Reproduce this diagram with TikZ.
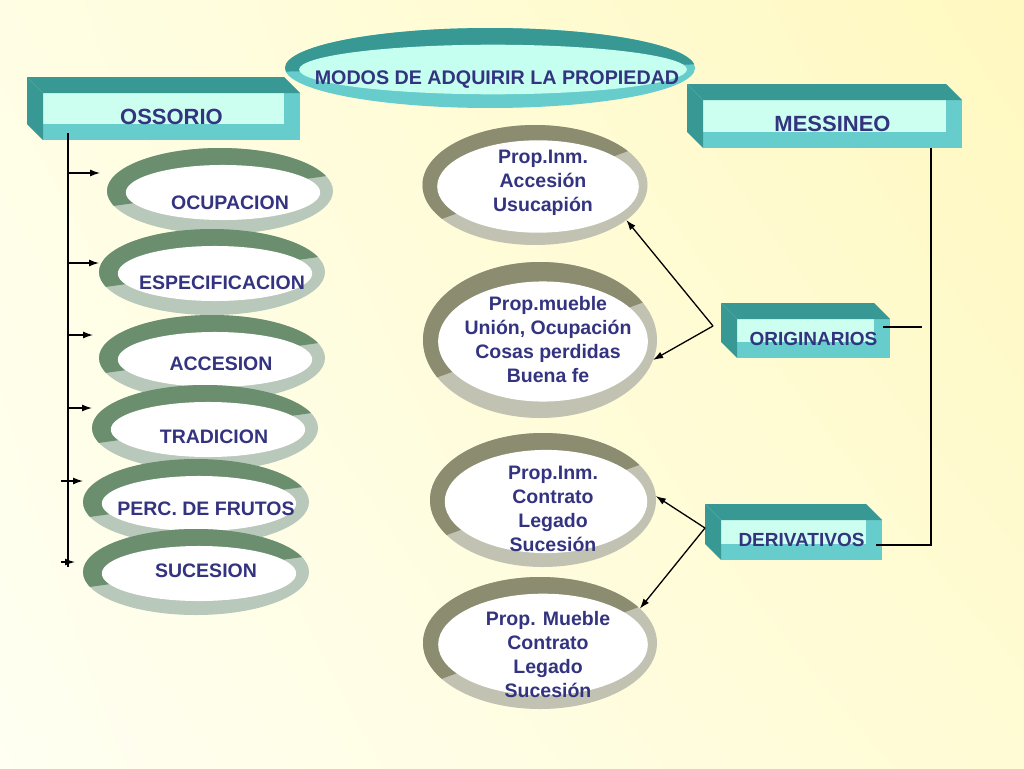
\documentclass[tikz,border=0pt]{standalone}
\usepackage{fontspec}
\setmainfont{Liberation Sans}
\usepackage{tikz}
\usetikzlibrary{shapes.geometric, arrows.meta, calc, shadings}

\definecolor{textblue}{RGB}{51,51,128}
\definecolor{tealdark}{RGB}{56,152,148}
\definecolor{tealmid}{RGB}{102,204,204}
\definecolor{teallight}{RGB}{204,255,240}
\definecolor{titlelight}{RGB}{196,255,240}
\definecolor{greendark}{RGB}{106,142,110}
\definecolor{greenlight}{RGB}{184,200,186}
\definecolor{olivedark}{RGB}{140,140,112}
\definecolor{olivelight}{RGB}{194,194,178}
\definecolor{bgul}{RGB}{255,254,228}
\definecolor{bgur}{RGB}{255,248,192}
\definecolor{bgll}{RGB}{255,255,242}
\definecolor{bglr}{RGB}{255,251,212}

% ring: dark, light, inner, x ratio, y ratio, inner tilt, split angle
\tikzset{ring/.style n args={7}{ellipse, inner sep=0pt, outer sep=0pt, fill=#2,
  path picture={
    \fill[#1] let \p0=(path picture bounding box.center) in
      (\p0) ++({180+#7}:400pt) -- ++(#7:800pt) -- ++({90+#7}:300pt) -- ++({180+#7}:800pt) -- cycle;
    \fill[#3] let \p1=(path picture bounding box.south west), \p2=(path picture bounding box.north east),
      \p3=($(\p1)!.5!(\p2)$) in [rotate around={#6:(\p3)}]
      ($(\p3)+(3pt,-1.5pt)$) ellipse [x radius={#4*(\x2-\x1)}, y radius={#5*(\y2-\y1)}];
  }}}
\tikzstyle{box} = [fill=tealmid, inner sep=0pt, outer sep=0pt, text=textblue,
  font=\bfseries\fontsize{22}{26}\selectfont,
  path picture={\fill[teallight] (path picture bounding box.north west) rectangle ([xshift=-16pt,yshift=16pt]path picture bounding box.south east);}]
\tikzstyle{titlering} = [ring={tealdark}{tealmid}{titlelight}{0.473}{0.31}{1.5}{1}]
\tikzstyle{leftring} = [ring={greendark}{greenlight}{white}{0.43}{0.32}{5}{8}, minimum width=226pt, minimum height=86pt]
\tikzstyle{midring} = [ring={olivedark}{olivelight}{white}{0.448}{0.385}{6}{20}]
\tikzstyle{lbl} = [text=textblue, font=\bfseries\fontsize{19.5}{24}\selectfont, align=center, inner sep=0pt]

\begin{document}
\begin{tikzpicture}[x=1pt, y=-1pt, >={Latex[length=10pt,width=7pt]}, line width=1.3pt]
    \useasboundingbox (0,0) rectangle (1024,768);
    \shade[upper left=bgul, upper right=bgur, lower left=bgll, lower right=bglr] (0,0) rectangle (1024,768);

    % boxes
    \node[box, minimum width=257pt, minimum height=47pt] (ossorio) at (171.5,116.5) {OSSORIO};
    \node[box, minimum width=259pt, minimum height=48pt] (messineo) at (832.5,124) {MESSINEO};
    \node[box, minimum width=153pt, minimum height=39pt, font=\bfseries\fontsize{19}{23}\selectfont] (originarios) at (813.5,338.5) {ORIGINARIOS};
    \node[box, minimum width=161pt, minimum height=40pt, font=\bfseries\fontsize{19}{23}\selectfont] (derivativos) at (801.5,540) {DERIVATIVOS};
    \foreach \b in {ossorio,messineo,originarios,derivativos} {
        \fill[tealdark] (\b.north west) -- ++(-16pt,16pt) -- ([xshift=-16pt,yshift=16pt]\b.north east) -- (\b.north east) -- cycle;
        \fill[tealdark] (\b.north west) -- ++(-16pt,16pt) -- ([xshift=-16pt,yshift=16pt]\b.south west) -- (\b.south west) -- cycle;
    }

    \node[titlering, minimum width=410pt, minimum height=80pt,
        label={[lbl, font=\bfseries\fontsize{19.7}{24}\selectfont, shift={(7,12)}]center:MODOS DE ADQUIRIR LA PROPIEDAD}] (modos) at (490,68) {};

    % left column
    \node[leftring, label={[lbl, shift={(10,12)}]center:OCUPACION}] (ocupacion) at (220,191) {};
    \node[leftring, label={[lbl, shift={(10,11)}]center:ESPECIFICACION}] (especificacion) at (212,272) {};
    \node[leftring, label={[lbl, shift={(9,6)}]center:ACCESION}] (accesion) at (212,358) {};
    \node[leftring, label={[lbl, shift={(9,9)}]center:TRADICION}] (tradicion) at (205,428) {};
    \node[leftring, label={[lbl, shift={(10,7)}]center:PERC. DE FRUTOS}] (perc) at (196,502) {};
    \node[leftring, label={[lbl, shift={(10,-1)}]center:SUCESION}] (sucesion) at (196,572) {};

    % middle column
    \node[midring, minimum width=225pt, minimum height=120pt,
        label={[lbl, shift={(8,-2)}]center:{Prop.Inm.\\Accesión\\Usucapión}}] (prop1) at (535,185) {};
    \node[midring, minimum width=234pt, minimum height=156pt,
        label={[lbl, shift={(8,0)}]center:{Prop.mueble\\Unión, Ocupación\\Cosas perdidas\\Buena fe}}] (prop2) at (540,340) {};
    \node[midring, minimum width=226pt, minimum height=134pt,
        label={[lbl, shift={(10,9)}]center:{Prop.Inm.\\Contrato\\Legado\\Sucesión}}] (prop3) at (543,500) {};
    \node[midring, minimum width=234pt, minimum height=132pt,
        label={[lbl, shift={(8,12)}]center:{Prop. Mueble\\Contrato\\Legado\\Sucesión}}] (prop4) at (540,643) {};

    % connectors
    \coordinate (trunkend) at (68,567);
    \draw[shorten <=-7pt] (ossorio.south -| trunkend) -- (trunkend);
    \foreach \n/\yy/\xs/\s in {ocupacion/173/68/7, especificacion/263/68/0, accesion/335/68/6,
                               tradicion/408/68/0, perc/481/61/0, sucesion/562/61/8}
        \draw[->, shorten >=\s pt] (\xs,\yy) -- (\n.west |- 0,\yy);

    \coordinate (origjoin) at (713,326);
    \coordinate (derivjoin) at (705,528);
    \coordinate (origend) at (922,327);
    \draw[->] (origjoin) -- (prop1.-21);
    \draw[->] (origjoin) -- (prop2.-10);
    \draw[->] (derivjoin) -- (prop3.2);
    \draw[->] (derivjoin) -- (prop4.19);
    \draw[shorten <=-7pt] (originarios.east |- origend) -- (origend);
    \draw[shorten >=-6pt] (messineo.south -| 931,0) |- (derivativos.east |- 0,545);
\end{tikzpicture}
\end{document}
